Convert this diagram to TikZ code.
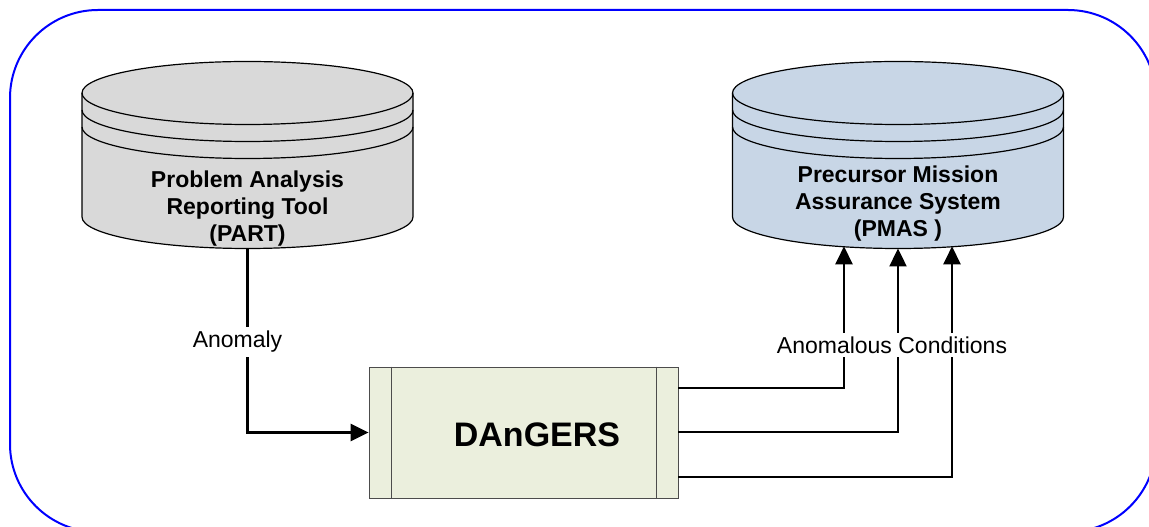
\documentclass[tikz,border=0pt]{standalone}
\usepackage{fontspec}
\setmainfont{Liberation Sans}
\usepackage{tikz}
\usetikzlibrary{positioning}
\usetikzlibrary{arrows.meta}
\usetikzlibrary{calc}
\definecolor{partgray}{HTML}{D9D9D9}
\definecolor{pmasblue}{HTML}{C8D6E6}
\definecolor{dangersgreen}{HTML}{EBEFDD}
\tikzset{store text/.style={font=\fontsize{23}{27}\selectfont\bfseries, align=center, inner sep=0pt},
  tool box/.style={rectangle, draw=black!70, fill=dangersgreen, minimum width=309pt, minimum height=131pt, inner sep=0pt, line width=0.8pt},
  flow label/.style={fill=white, font=\fontsize{23}{27}\selectfont, inner sep=4pt},
  flow/.style={line width=2.4pt, -{Triangle[length=18pt,width=17pt]}},
}
% data store drawn as a cylinder: centre x, fill colour
\newcommand{\datastore}[2]{%
  \fill[#2] (#1-165.5,434) -- (#1-165.5,310) arc[start angle=180, end angle=360, x radius=165.5, y radius=31.5]
    -- (#1+165.5,434) arc[start angle=0, end angle=180, x radius=165.5, y radius=31.5] -- cycle;
  \draw[line width=1.2pt] (#1,434) ellipse [x radius=165.5, y radius=31.5];
  \draw[line width=1.2pt] (#1-165.5,417) arc[start angle=180, end angle=360, x radius=165.5, y radius=31.5];
  \draw[line width=1.2pt] (#1-165.5,400) arc[start angle=180, end angle=360, x radius=165.5, y radius=31.5];
  \draw[line width=1.2pt] (#1-165.5,434) -- (#1-165.5,310) arc[start angle=180, end angle=360, x radius=165.5, y radius=31.5] -- (#1+165.5,434);
}

\begin{document}
\begin{tikzpicture}[x=1pt, y=1pt]
    \useasboundingbox (0,0) rectangle (1149,527);
    \clip (0,0) rectangle (1149,527);
    \draw[blue, line width=2pt, rounded corners=88pt] (10,517) rectangle (1156,-5);

    % the two data stores
    \datastore{247.5}{partgray}
    \datastore{898}{pmasblue}
    \node[store text] (part) at (247.5,318) {Problem Analysis\\Reporting Tool\\(PART)};
    \node[store text] (pmas) at (898,323) {Precursor Mission\\Assurance System\\(PMAS )};
    \coordinate (part-out) at (247.5,278.5);
    \coordinate (pmas-in1) at (844,280.7);
    \coordinate (pmas-in2) at (898,278.5);
    \coordinate (pmas-in3) at (952,280.7);

    % the tool
    \node[tool box] (dangers) at (523.5,94.5) {};
    \draw[black!70, line width=0.8pt] ([xshift=23pt]dangers.north west) -- ([xshift=23pt]dangers.south west);
    \draw[black!70, line width=0.8pt] ([xshift=-22pt]dangers.north east) -- ([xshift=-22pt]dangers.south east);
    \node[font=\fontsize{34}{40}\selectfont\bfseries] (dangers-name) at (537,92) {DAnGERS};

    % flows
    \draw[flow] (part-out) |- (dangers.west);
    \draw[flow] ([yshift=44.5pt]dangers.east) -| (pmas-in1);
    \draw[flow] ([yshift=0.5pt]dangers.east) -| (pmas-in2);
    \draw[flow] ([yshift=-44.5pt]dangers.east) -| (pmas-in3);
    \node[flow label] (anomaly) at (237.5,185) {Anomaly};
    \node[flow label] (conditions) at (892,182) {Anomalous Conditions};
\end{tikzpicture}
\end{document}
